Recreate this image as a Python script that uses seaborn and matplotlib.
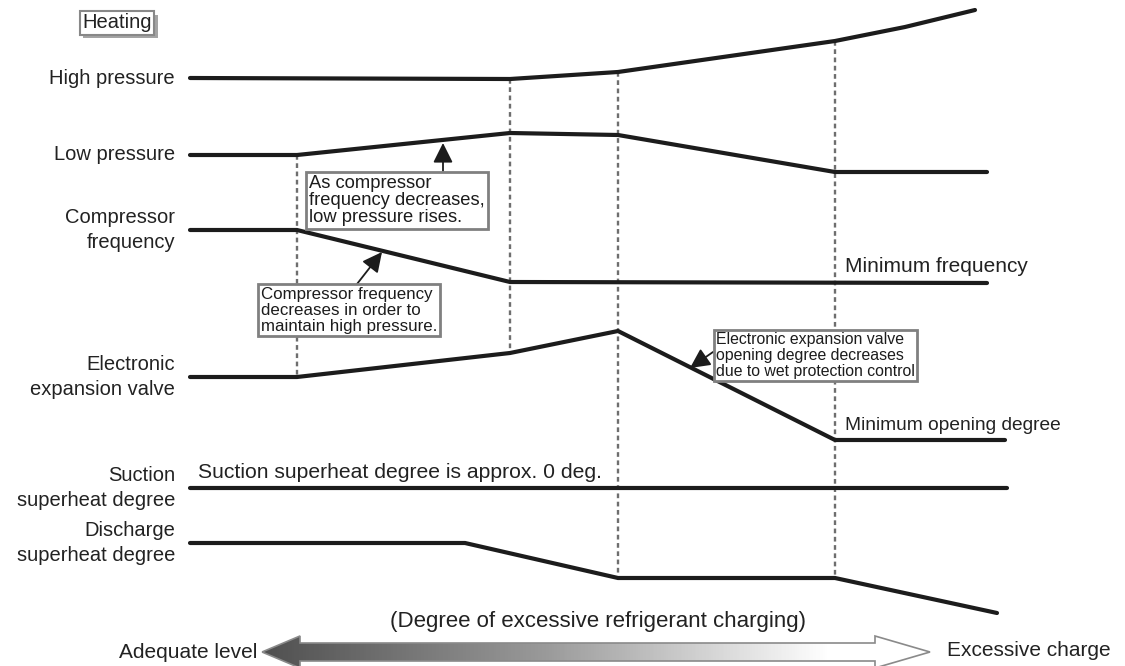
import numpy as np
import pandas as pd
import matplotlib
matplotlib.use("Agg")
import matplotlib.pyplot as plt
import matplotlib.patheffects as pe
from matplotlib.patches import Polygon
import seaborn as sns

# %% data (page-like units: x to the right, y downward)
signals = ["High pressure", "Low pressure", "Compressor\nfrequency",
           "Electronic\nexpansion valve", "Suction\nsuperheat degree",
           "Discharge\nsuperheat degree"]

high_x = [190, 510, 618, 835, 905, 975]
high_y = [78, 79, 72, 41, 27, 10]
low_x = [190, 297, 510, 618, 835, 987]
low_y = [155, 155, 133, 135, 172, 172]
comp_x = [190, 297, 510, 987]
comp_y = [230, 230, 282, 283]
eev_x = [190, 297, 510, 618, 835, 1005]
eev_y = [377, 377, 353, 331, 440, 440]
suction_x = [190, 1007]
suction_y = [488, 488]
disch_x = [190, 465, 618, 835, 997]
disch_y = [543, 543, 578, 578, 613]

guide_x = [297, 510, 618, 835]
guide_top = [155, 79, 72, 41]
guide_bottom = [377, 353, 578, 578]

notes = ["As compressor\nfrequency decreases,\nlow pressure rises.",
         "Compressor frequency\ndecreases in order to\nmaintain high pressure.",
         "Electronic expansion valve\nopening degree decreases\ndue to wet protection control"]

# %%
series = [(high_x, high_y), (low_x, low_y), (comp_x, comp_y),
          (eev_x, eev_y), (suction_x, suction_y), (disch_x, disch_y)]
rows = []
for name, (xs, ys) in zip(signals, series):
    for i, (xv, yv) in enumerate(zip(xs, ys)):
        rows.append({"signal": name, "x": xv, "y": yv, "order": i})
df = pd.DataFrame(rows)

sns.set_theme(style="white")
plt.rcParams["font.family"] = ["Liberation Sans", "DejaVu Sans"]

fig = plt.figure(figsize=(11.25, 6.66), dpi=100)
ax = fig.add_axes([0, 0, 1, 1])

# dashed guide lines
ax.vlines(guide_x, guide_top, guide_bottom, colors="#6e6e6e",
          linestyles=(0, (2.0, 1.5)), lw=1.7, zorder=1)

sns.lineplot(data=df, x="x", y="y", hue="signal", units="signal",
             estimator=None, sort=False, palette=["#1c1c1c"] * len(signals),
             legend=False, lw=3, ax=ax, zorder=3)

ax.set_xlim(0, 1125)
ax.set_ylim(666, 0)
ax.axis("off")

# row labels on the left
for name, ys in zip(signals, [high_y, low_y, comp_y, eev_y, suction_y, disch_y]):
    ax.text(175, ys[0], name, ha="right", va="center", fontsize=14.5,
            color="#222222", linespacing=1.36)

ax.text(845, 266, "Minimum frequency", ha="left", va="center",
        fontsize=15, color="#222222")
ax.text(845, 425, "Minimum opening degree", ha="left", va="center",
        fontsize=13.8, color="#222222")
ax.text(198, 473, "Suction superheat degree is approx. 0 deg.", ha="left",
        va="center", fontsize=15.2, color="#222222")

# Heating tag with shadow
tag = ax.text(117, 23, "Heating", ha="center", va="center", fontsize=14.5,
              color="#222222",
              bbox=dict(boxstyle="square,pad=0.12", fc="white", ec="#888888", lw=1.5))
tag.get_bbox_patch().set_path_effects(
    [pe.SimplePatchShadow(offset=(2.5, -2.5), shadow_rgbFace="#9a9a9a", alpha=0.9), pe.Normal()])

# callout boxes with arrows
box_kw = dict(boxstyle="square,pad=0.15", fc="white", ec="#808080", lw=2)
arrow_kw = dict(arrowstyle="-|>,head_length=1.0,head_width=0.5", color="#1c1c1c",
                lw=1.3, shrinkA=0, shrinkB=0)

ax.text(309, 175, notes[0], ha="left", va="top", fontsize=13.2, color="#1c1c1c",
        linespacing=1.0, bbox=box_kw, zorder=5)
ax.annotate("", xy=(443, 143), xytext=(443, 171), arrowprops=arrow_kw, zorder=4)

ax.text(261, 287, notes[1], ha="left", va="top", fontsize=12.2, color="#1c1c1c",
        linespacing=1.08, bbox=box_kw, zorder=5)
ax.annotate("", xy=(382, 252), xytext=(357, 284), arrowprops=arrow_kw, zorder=4)

ax.text(716, 332, notes[2], ha="left", va="top", fontsize=11.4, color="#1c1c1c",
        linespacing=1.08, bbox=box_kw, zorder=5)
ax.annotate("", xy=(690, 368), xytext=(713, 352), arrowprops=arrow_kw, zorder=4)

# bottom gradient double arrow
ax.text(598, 622, "(Degree of excessive refrigerant charging)", ha="center",
        va="center", fontsize=16, color="#222222")
ax.text(188, 652, "Adequate level", ha="center", va="center", fontsize=15,
        color="#222222")
ax.text(1029, 651, "Excessive charge", ha="center", va="center", fontsize=15,
        color="#222222")

x0, x1, xm = 262, 930, 652
head = 38
pts = [(x0, xm), (x0 + head, xm - 16), (x0 + head, xm - 9), (x1 - head - 17, xm - 9),
       (x1 - head - 17, xm - 16), (x1, xm), (x1 - head - 17, xm + 16),
       (x1 - head - 17, xm + 9), (x0 + head, xm + 9), (x0 + head, xm + 16)]
poly = Polygon(pts, closed=True, fc="none", ec="#8a8a8a", lw=1.2, zorder=3)
ax.add_patch(poly)
grad = np.linspace(0, 1, 256).reshape(1, -1)
grad = np.clip(grad / 0.85, 0, 1)
img = ax.imshow(grad, cmap=matplotlib.colors.LinearSegmentedColormap.from_list(
    "g", ["#505050", "#9a9a9a", "#ffffff"]), aspect="auto",
    extent=[x0, x1, xm + 17, xm - 17], zorder=2)
img.set_clip_path(poly)
ax.set_xlim(0, 1125)
ax.set_ylim(666, 0)

fig.savefig("out.png", dpi=100)
